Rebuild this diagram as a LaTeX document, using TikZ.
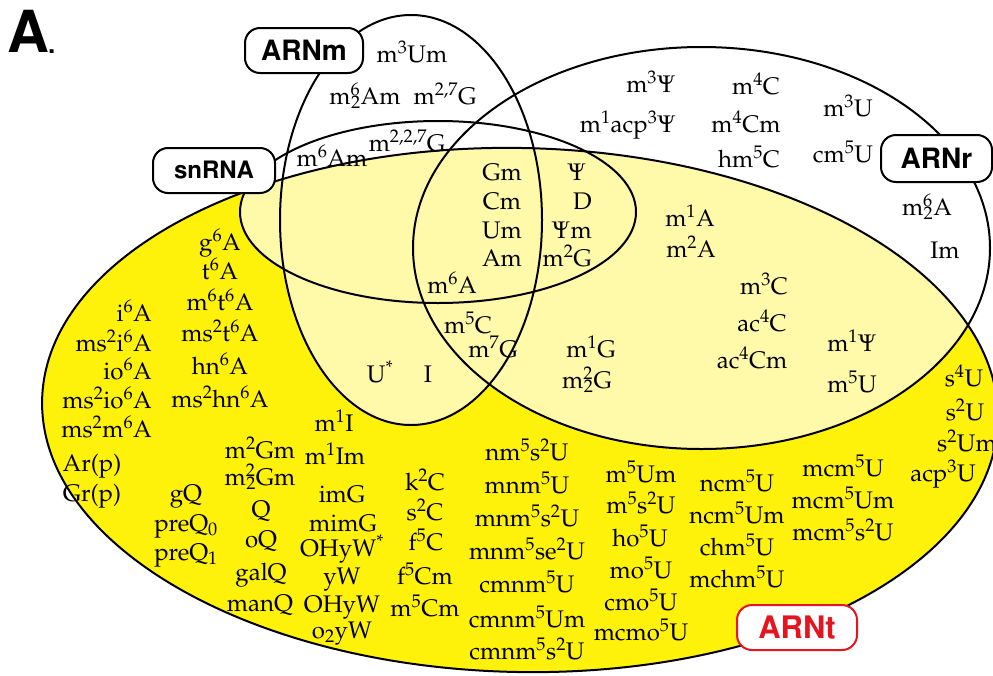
\documentclass[tikz,border=0pt]{standalone}
\usepackage[T1]{fontenc}
\usepackage{mathpazo}
\definecolor{ybright}{RGB}{255,242,10}
\definecolor{ypale}{RGB}{255,249,170}
\definecolor{tred}{RGB}{230,20,30}
\newcommand\pal{\fontsize{24}{28}\selectfont\rmfamily}
\newcommand\hvb[1]{\fontsize{#1}{#1}\fontfamily{phv}\fontseries{b}\selectfont}
\newcommand\Up[1]{\textsuperscript{#1}}
\newcommand\Dn[1]{\textsubscript{#1}}
\newcommand\UD[2]{\textsuperscript{\rlap{#1}}\textsubscript{#2}}
\newcommand\PS{$\Psi$}
\tikzset{
  lab/.style={font=\pal, inner sep=0pt, anchor=base},
  labr/.style={font=\pal, inner sep=0pt, anchor=base east},
  outl/.style={draw=black, line width=2pt},
  box/.style={draw=black, line width=2pt, fill=white, rounded corners=15pt,
    inner sep=0pt, minimum height=45pt},
}
\begin{document}
\begin{tikzpicture}[x=1pt,y=-1pt]
\useasboundingbox (0,0) rectangle (993,675);
\clip (0,0) rectangle (993,675);
\fill[white] (0,0) rectangle (993,675);
% ARNt fill
\fill[ybright,shift={(520,410)},rotate=-1.2] (0,0) ellipse [x radius=478,y radius=262];
\begin{scope}
  \clip[shift={(520,410)},rotate=-1.2] (0,0) ellipse [x radius=478,y radius=262];
  \fill[ypale] (411,220) ellipse [x radius=131,y radius=205]
               (438,212) ellipse [x radius=198,y radius=91]
               (701.5,248) ellipse [x radius=288.5,y radius=201];
\end{scope}
% outlines
\draw[outl,shift={(520,410)},rotate=-1.2] (0,0) ellipse [x radius=478,y radius=262];
\draw[outl] (411,220) ellipse [x radius=131,y radius=205];
\draw[outl] (438,212) ellipse [x radius=198,y radius=91];
\draw[outl] (701.5,248) ellipse [x radius=288.5,y radius=201];
% boxes
\node[box, minimum width=118pt, font={\hvb{28}}] (bARNm) at (304,50.5) {ARNm};
\node[box, minimum width=122pt, font={\hvb{24}}] (bsnRNA) at (214,170.5) {snRNA};
\node[box, minimum width=111pt, minimum height=47pt, font={\hvb{28}}] (bARNr) at (936.5,158.5) {ARNr};
\node[box, draw=tred, text=tred, minimum width=120pt, font={\hvb{31}}] (bARNt) at (797,627.5) {ARNt};
\node[anchor=base west, inner sep=0pt, font={\hvb{58}}] (lblA) at (7,52) {A};
\node[anchor=base west, inner sep=0pt, font={\hvb{26}}] (lblDot) at (48,53) {.};
% ARNm only
\node[lab] (n1) at (412,62) {m\Up{3}Um};
\node[lab] (n2) at (365,104) {m\UD{6}{2}Am};
\node[lab] (n3) at (445,104) {m\Up{2,7}G};
% snRNA & ARNm
\node[lab] (n4) at (332,166) {m\Up{6}Am};
\node[lab] (n5) at (407,151) {m\Up{2,2,7}G};
% core
\node[lab] (n6) at (502,180) {Gm};
\node[lab] (n7) at (502,209) {Cm};
\node[lab] (n8) at (502,238) {Um};
\node[lab] (n9) at (502,266) {Am};
\node[lab] (n10) at (577,180) {\PS};
\node[labr] (n11) at (592,209) {D};
\node[labr] (n12) at (592,238) {\PS m};
\node[labr] (n13) at (592,266) {m\Up{2}G};
% ARNr only
\node[lab] (n14) at (651,92) {m\Up{3}\PS};
\node[lab] (n15) at (756,94) {m\Up{4}C};
\node[lab] (n16) at (848,116) {m\Up{3}U};
\node[lab] (n17) at (628,132) {m\Up{1}acp\Up{3}\PS};
\node[lab] (n18) at (746,132) {m\Up{4}Cm};
\node[lab] (n19) at (749,167) {hm\Up{5}C};
\node[lab] (n20) at (843,162) {cm\Up{5}U};
\node[lab] (n21) at (927,215) {m\UD{6}{2}A};
\node[lab] (n22) at (945,258) {Im};
% ARNr & ARNt
\node[lab] (n23) at (690,226) {m\Up{1}A};
\node[lab] (n24) at (691,257) {m\Up{2}A};
\node[lab] (n25) at (764,294) {m\Up{3}C};
\node[lab] (n26) at (762,331) {ac\Up{4}C};
\node[lab] (n27) at (752,368) {ac\Up{4}Cm};
\node[lab] (n28) at (852,351) {m\Up{1}\PS};
\node[lab] (n29) at (852,392) {m\Up{5}U};
% ARNt right
\node[lab] (n30) at (964,386) {s\Up{4}U};
\node[lab] (n31) at (965,420) {s\Up{2}U};
\node[lab] (n32) at (967,451) {s\Up{2}Um};
\node[lab] (n33) at (943,481) {acp\Up{3}U};
% left columns
\node[labr] (n34) at (152,321) {i\Up{6}A};
\node[labr] (n35) at (152,351) {ms\Up{2}i\Up{6}A};
\node[labr] (n36) at (152,379) {io\Up{6}A};
\node[labr] (n37) at (152,408) {ms\Up{2}io\Up{6}A};
\node[labr] (n38) at (152,437) {ms\Up{2}m\Up{6}A};
\node[lab] (n39) at (92,471) {Ar(p)};
\node[lab] (n40) at (92,501) {Gr(p)};
\node[lab] (n41) at (220,250) {g\Up{6}A};
\node[lab] (n42) at (220,279) {t\Up{6}A};
\node[lab] (n43) at (220,310) {m\Up{6}t\Up{6}A};
\node[lab] (n44) at (220,341) {ms\Up{2}t\Up{6}A};
\node[lab] (n45) at (220,374) {hn\Up{6}A};
\node[lab] (n46) at (220,407) {ms\Up{2}hn\Up{6}A};
% middle
\node[lab] (n47) at (452,293) {m\Up{6}A};
\node[lab] (n48) at (468,333) {m\Up{5}C};
\node[lab] (n49) at (493,357) {m\Up{7}G};
\node[lab] (n50) at (380,382) {U\Up{*}};
\node[lab] (n51) at (428,382) {I};
\node[lab] (n52) at (591,357) {m\Up{1}G};
\node[lab] (n53) at (587,388) {m\UD{2}{2}G};
% lower left
\node[lab] (n54) at (334,431) {m\Up{1}I};
\node[lab] (n55) at (260,458) {m\Up{2}Gm};
\node[lab] (n56) at (335,464) {m\Up{1}Im};
\node[lab] (n57) at (260,485) {m\UD{2}{2}Gm};
\node[lab] (n58) at (186,501) {gQ};
\node[lab] (n59) at (342,502) {imG};
\node[lab] (n60) at (261,517) {Q};
\node[lab] (n61) at (343,531) {mimG};
\node[lab] (n62) at (186,531) {preQ\Dn{0}};
\node[lab] (n63) at (261,547) {oQ};
\node[lab] (n64) at (342,556) {OHyW\Up{*}};
\node[lab] (n65) at (186,560) {preQ\Dn{1}};
\node[lab] (n66) at (261,580) {galQ};
\node[lab] (n67) at (342,584) {yW};
\node[lab] (n68) at (260,611) {manQ};
\node[lab] (n69) at (342,612) {OHyW};
\node[lab] (n70) at (342,638) {o\Dn{2}yW};
% k2C column
\node[lab] (n71) at (425,490) {k\Up{2}C};
\node[lab] (n72) at (425,520) {s\Up{2}C};
\node[lab] (n73) at (426,550) {f\Up{5}C};
\node[lab] (n74) at (425,584) {f\Up{5}Cm};
\node[lab] (n75) at (425,616) {m\Up{5}Cm};
% nm5 column
\node[lab] (n76) at (527,460) {nm\Up{5}s\Up{2}U};
\node[lab] (n77) at (527,493) {mnm\Up{5}U};
\node[lab] (n78) at (527,526) {mnm\Up{5}s\Up{2}U};
\node[lab] (n79) at (527,559) {mnm\Up{5}se\Up{2}U};
\node[lab] (n80) at (527,592) {cmnm\Up{5}U};
\node[lab] (n81) at (527,627) {cmnm\Up{5}Um};
\node[lab] (n82) at (527,659) {cmnm\Up{5}s\Up{2}U};
% m5Um column
\node[lab] (n83) at (641,482) {m\Up{5}Um};
\node[lab] (n84) at (641,513) {m\Up{5}s\Up{2}U};
\node[lab] (n85) at (640,546) {ho\Up{5}U};
\node[lab] (n86) at (641,578) {mo\Up{5}U};
\node[lab] (n87) at (641,610) {cmo\Up{5}U};
\node[lab] (n88) at (641,640) {mcmo\Up{5}U};
% ncm column
\node[lab] (n89) at (737,491) {ncm\Up{5}U};
\node[lab] (n90) at (737,523) {ncm\Up{5}Um};
\node[lab] (n91) at (737,555) {chm\Up{5}U};
\node[lab] (n92) at (737,587) {mchm\Up{5}U};
% mcm column
\node[lab] (n93) at (843,476) {mcm\Up{5}U};
\node[lab] (n94) at (843,508) {mcm\Up{5}Um};
\node[lab] (n95) at (843,540) {mcm\Up{5}s\Up{2}U};
\end{tikzpicture}
\end{document}
